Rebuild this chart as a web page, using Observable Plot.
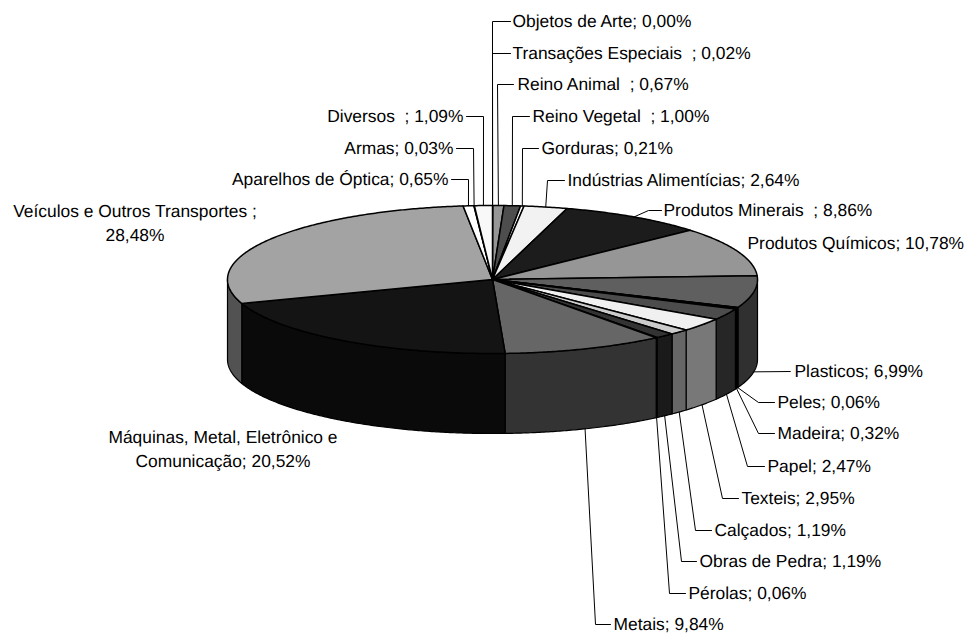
<!DOCTYPE html>
<html>
<head>
<meta charset="utf-8">
<script src="https://cdn.jsdelivr.net/npm/d3@7"></script>
<script src="https://cdn.jsdelivr.net/npm/@observablehq/plot@0.6"></script>
<style>html,body{margin:0;padding:0;background:#fff}svg{display:block}</style>
</head>
<body>
<div id="chart"></div>
<script>
// Data, clockwise from 12 o'clock
const categories = ["Objetos de Arte","Transações Especiais  ","Reino Animal  ","Reino Vegetal  ","Gorduras","Indústrias Alimentícias","Produtos Minerais  ","Produtos Químicos","Plasticos","Peles","Madeira","Papel","Texteis","Calçados","Obras de Pedra","Pérolas","Metais","Máquinas, Metal, Eletrônico e Comunicação","Veículos e Outros Transportes ","Aparelhos de Óptica","Armas","Diversos  "];
const shares = [0.00,0.02,0.67,1.00,0.21,2.64,8.86,10.78,6.99,0.06,0.32,2.47,2.95,1.19,1.19,0.06,9.84,20.52,28.48,0.65,0.03,1.09];
const shareLabels = ["0,00%","0,02%","0,67%","1,00%","0,21%","2,64%","8,86%","10,78%","6,99%","0,06%","0,32%","2,47%","2,95%","1,19%","1,19%","0,06%","9,84%","20,52%","28,48%","0,65%","0,03%","1,09%"];

// Styles
const topColors = ["#ffffff","#555555","#969696","#4d4d4d","#ffffff","#f2f2f2","#1c1c1c","#969696","#5f5f5f","#1a1a1a","#000000","#4c4c4c","#f0f0f0","#cccccc","#333333","#111111","#666666","#141414","#a3a3a3","#ffffff","#ffffff","#f8f8f8"];
const sideColors = ["#808080","#2a2a2a","#4b4b4b","#262626","#808080","#797979","#0e0e0e","#4b4b4b","#303030","#0d0d0d","#000000","#262626","#787878","#666666","#1a1a1a","#090909","#333333","#0a0a0a","#525252","#808080","#808080","#7c7c7c"];

// Pie geometry
const cx = 492, cy = 279, rx = 265, ry = 74, depth = 80;

// Label layout: [elbow x, elbow y, leader end x, text x, text y, anchor]; null elbow = no leader
const labelLayout = [
  [492,21,510,512,21,"start"],
  [492,53,510,512,53,"start"],
  [497,84,513,517,84,"start"],
  [512,116,529,532,116,"start"],
  [522,148,538,541,148,"start"],
  [547,180,564,567,180,"start"],
  [648,210,661,663,210,"start"],
  [null,null,null,747,243,"start"],
  [790,371,790,794,371,"start"],
  [758,402,774,777,402,"start"],
  [758,433,774,777,433,"start"],
  [747,466,764,767,466,"start"],
  [722,498,738,741,498,"start"],
  [695,530,711,714,530,"start"],
  [681,561,696,699,561,"start"],
  [669,593,685,688,593,"start"],
  [595,624,610,613,624,"start"],
  [null,null,null,222.5,449,"middle"],
  [null,null,null,134.5,223,"middle"],
  [468,179,451,448,179,"end"],
  [473,148,456,453,148,"end"],
  [483,116,466,463,116,"end"]
];
const wrapped = {17: "Máquinas, Metal, Eletrônico e\nComunicação; 20,52%", 18: "Veículos e Outros Transportes ;\n28,48%"};

const total = d3.sum(shares);
const cum = d3.cumsum(shares);
const deg = s => s / total * 360;
const rad = a => a * Math.PI / 180;
const px = a => cx + rx * Math.sin(rad(a));
const py = (a, dz = 0) => cy - ry * Math.cos(rad(a)) + dz;

const tops = [], sides = [], leaders = [], texts = [];
shares.forEach((s, i) => {
  const a0 = deg(cum[i] - s), a1 = deg(cum[i]);
  // top wedge
  const n = Math.max(1, Math.ceil((a1 - a0) / 0.5));
  const arc = d3.range(n + 1).map(k => a0 + (a1 - a0) * k / n);
  const wedge = [{x: cx, y: cy}, ...arc.map(a => ({x: px(a), y: py(a)})), {x: cx, y: cy}];
  wedge.forEach(p => tops.push({...p, id: i, fill: topColors[i]}));
  // side wall (front half only)
  const b0 = Math.max(a0, 90), b1 = Math.min(a1, 270);
  if (b1 > b0) {
    const m = Math.max(1, Math.ceil((b1 - b0) / 0.5));
    const arc2 = d3.range(m + 1).map(k => b0 + (b1 - b0) * k / m);
    const wall = [...arc2.map(a => ({x: px(a), y: py(a)})),
                  ...arc2.slice().reverse().map(a => ({x: px(a), y: py(a, depth)}))];
    wall.push(wall[0]);
    wall.forEach(p => sides.push({...p, id: i, fill: sideColors[i]}));
  }
  // leader & label
  const [ex, ey, lx, tx, ty, anchor] = labelLayout[i];
  const mid = (a0 + a1) / 2;
  if (ex !== null) {
    const front = mid > 90 && mid < 270;
    [[px(mid), py(mid, front ? depth : 0)], [ex, ey], [lx, ey]]
      .forEach(([x, y]) => leaders.push({x, y, id: i}));
  }
  texts.push({x: tx, y: ty, anchor,
    text: wrapped[i] ?? `${categories[i]}; ${shareLabels[i]}`});
});

const textMark = anchor => Plot.text(texts.filter(d => d.anchor === anchor), {
  x: "x", y: "y", text: "text", textAnchor: anchor, lineAnchor: "middle",
  lineHeight: 1.39, fontSize: 17.4, fill: "#000", dy: -2.5
});

const chart = Plot.plot({
  width: 966, height: 635,
  marginTop: 0, marginRight: 0, marginBottom: 0, marginLeft: 0,
  x: {domain: [0, 966], range: [0, 966], axis: null},
  y: {domain: [0, 635], range: [0, 635], axis: null},
  color: {type: "identity"},
  style: {fontFamily: "'Liberation Sans', Arial, sans-serif", background: "#fff", whiteSpace: "pre", textRendering: "geometricPrecision"},
  marks: [
    Plot.line(sides, {x: "x", y: "y", z: "id", fill: "fill", stroke: "#000", strokeWidth: 1.2, curve: "linear"}),
    Plot.line(tops, {x: "x", y: "y", z: "id", fill: "fill", stroke: "#000", strokeWidth: 1.5, curve: "linear"}),
    Plot.line(leaders, {x: "x", y: "y", z: "id", stroke: "#000", strokeWidth: 1, curve: "linear"}),
    textMark("start"), textMark("middle"), textMark("end")
  ]
});
document.getElementById("chart").append(chart);
</script>
</body>
</html>
